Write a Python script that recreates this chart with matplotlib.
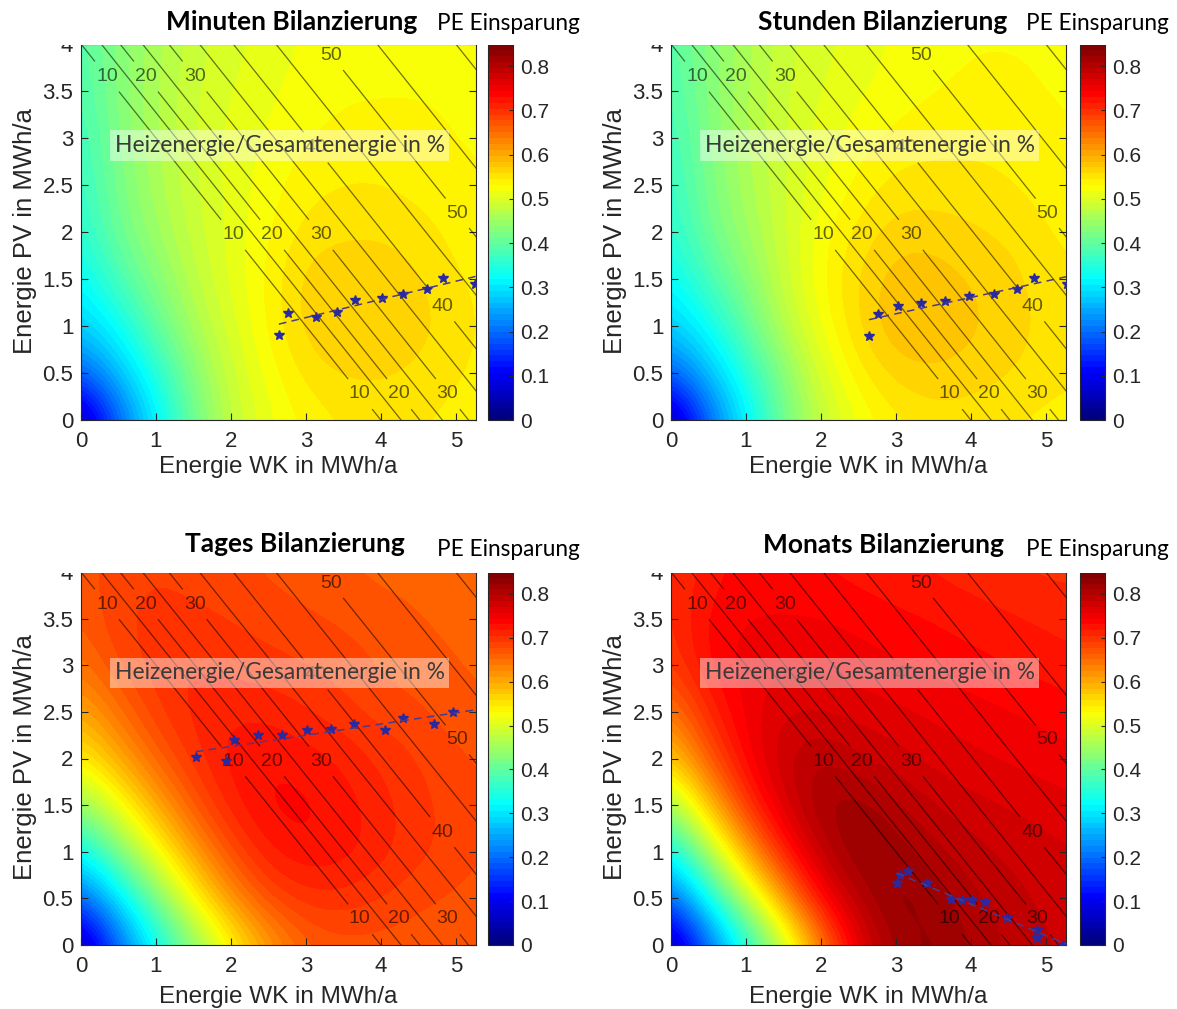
import numpy as np
import matplotlib
matplotlib.use("Agg")
import matplotlib.pyplot as plt
from matplotlib.patches import Rectangle
from matplotlib.ticker import FuncFormatter
from matplotlib.colors import LinearSegmentedColormap

plt.rcParams['font.family'] = ['Liberation Sans', 'DejaVu Sans']

# ---------------- data ----------------
# grid on which the PE savings were read (x: Energie WK, y: Energie PV)
x_grid = [0.0, 0.5, 1.0, 1.5, 2.0, 2.5, 3.0, 3.5, 4.0, 4.5, 5.0, 5.5]
y_grid = [0.0, 0.5, 1.0, 1.5, 2.0, 2.5, 3.0, 3.5, 4.0]

pe_minuten = [
    [0.02, 0.19, 0.31, 0.41, 0.48, 0.515, 0.535, 0.545, 0.55, 0.545, 0.54, 0.54],
    [0.19, 0.27, 0.35, 0.43, 0.49, 0.525, 0.55, 0.56, 0.56, 0.555, 0.545, 0.54],
    [0.28, 0.33, 0.40, 0.46, 0.50, 0.535, 0.565, 0.575, 0.57, 0.565, 0.55, 0.54],
    [0.32, 0.38, 0.43, 0.475, 0.51, 0.535, 0.565, 0.57, 0.57, 0.56, 0.545, 0.54],
    [0.35, 0.41, 0.45, 0.485, 0.51, 0.53, 0.55, 0.555, 0.555, 0.55, 0.54, 0.535],
    [0.36, 0.42, 0.46, 0.49, 0.51, 0.525, 0.54, 0.545, 0.545, 0.54, 0.535, 0.53],
    [0.37, 0.425, 0.465, 0.49, 0.51, 0.52, 0.53, 0.535, 0.535, 0.535, 0.53, 0.53],
    [0.38, 0.43, 0.465, 0.49, 0.505, 0.515, 0.525, 0.53, 0.53, 0.53, 0.53, 0.53],
    [0.39, 0.43, 0.46, 0.485, 0.50, 0.51, 0.52, 0.525, 0.53, 0.53, 0.53, 0.53],
]
pe_stunden = [
    [0.02, 0.19, 0.31, 0.41, 0.48, 0.52, 0.54, 0.55, 0.55, 0.545, 0.54, 0.54],
    [0.19, 0.27, 0.35, 0.43, 0.50, 0.54, 0.565, 0.57, 0.565, 0.56, 0.55, 0.545],
    [0.28, 0.33, 0.40, 0.47, 0.52, 0.56, 0.585, 0.585, 0.575, 0.565, 0.555, 0.545],
    [0.32, 0.38, 0.43, 0.485, 0.53, 0.56, 0.58, 0.58, 0.57, 0.565, 0.55, 0.545],
    [0.35, 0.41, 0.45, 0.49, 0.525, 0.55, 0.565, 0.565, 0.56, 0.555, 0.545, 0.54],
    [0.36, 0.42, 0.46, 0.49, 0.515, 0.535, 0.55, 0.55, 0.55, 0.545, 0.54, 0.535],
    [0.37, 0.425, 0.465, 0.49, 0.51, 0.525, 0.535, 0.54, 0.54, 0.54, 0.535, 0.53],
    [0.38, 0.43, 0.465, 0.49, 0.505, 0.515, 0.525, 0.53, 0.535, 0.535, 0.53, 0.53],
    [0.39, 0.43, 0.46, 0.485, 0.50, 0.51, 0.52, 0.525, 0.53, 0.53, 0.53, 0.53],
]
pe_tages = [
    [0.02, 0.19, 0.32, 0.43, 0.53, 0.61, 0.66, 0.67, 0.67, 0.67, 0.665, 0.66],
    [0.19, 0.30, 0.42, 0.53, 0.62, 0.68, 0.70, 0.70, 0.69, 0.68, 0.675, 0.67],
    [0.32, 0.42, 0.52, 0.61, 0.68, 0.72, 0.73, 0.725, 0.71, 0.695, 0.685, 0.675],
    [0.44, 0.52, 0.60, 0.67, 0.715, 0.735, 0.735, 0.725, 0.71, 0.695, 0.685, 0.675],
    [0.54, 0.60, 0.66, 0.70, 0.725, 0.73, 0.725, 0.715, 0.70, 0.69, 0.68, 0.675],
    [0.60, 0.65, 0.69, 0.71, 0.715, 0.715, 0.705, 0.695, 0.685, 0.68, 0.67, 0.665],
    [0.645, 0.68, 0.70, 0.705, 0.70, 0.695, 0.69, 0.685, 0.675, 0.67, 0.665, 0.66],
    [0.665, 0.69, 0.695, 0.695, 0.69, 0.685, 0.68, 0.675, 0.67, 0.665, 0.66, 0.655],
    [0.67, 0.685, 0.69, 0.685, 0.68, 0.675, 0.67, 0.665, 0.66, 0.66, 0.655, 0.655],
]
pe_monats = [
    [0.02, 0.19, 0.34, 0.47, 0.63, 0.76, 0.815, 0.83, 0.81, 0.795, 0.785, 0.78],
    [0.19, 0.33, 0.47, 0.61, 0.74, 0.80, 0.835, 0.82, 0.80, 0.79, 0.78, 0.775],
    [0.32, 0.46, 0.60, 0.72, 0.79, 0.83, 0.82, 0.80, 0.79, 0.78, 0.775, 0.77],
    [0.45, 0.58, 0.70, 0.77, 0.815, 0.82, 0.80, 0.785, 0.775, 0.77, 0.765, 0.76],
    [0.57, 0.67, 0.74, 0.785, 0.80, 0.785, 0.775, 0.765, 0.76, 0.755, 0.75, 0.745],
    [0.64, 0.71, 0.75, 0.77, 0.77, 0.765, 0.76, 0.755, 0.75, 0.745, 0.74, 0.735],
    [0.69, 0.735, 0.75, 0.755, 0.755, 0.75, 0.745, 0.74, 0.735, 0.73, 0.725, 0.72],
    [0.70, 0.735, 0.745, 0.745, 0.745, 0.74, 0.735, 0.73, 0.725, 0.72, 0.715, 0.71],
    [0.70, 0.725, 0.735, 0.735, 0.73, 0.725, 0.72, 0.715, 0.71, 0.705, 0.70, 0.70],
]

# optimum points (Energie WK, Energie PV)
opt_minuten_x = [2.64, 2.76, 3.14, 3.42, 3.65, 4.01, 4.29, 4.61, 4.83, 5.26]
opt_minuten_y = [0.90, 1.14, 1.10, 1.15, 1.28, 1.30, 1.34, 1.39, 1.51, 1.45]
opt_stunden_x = [2.64, 2.76, 3.03, 3.33, 3.65, 3.97, 4.31, 4.62, 4.84, 5.28]
opt_stunden_y = [0.89, 1.13, 1.21, 1.25, 1.27, 1.32, 1.34, 1.39, 1.51, 1.45]
opt_tages_x = [1.53, 1.93, 2.04, 2.36, 2.68, 3.01, 3.34, 3.64, 4.05, 4.29, 4.71, 4.96]
opt_tages_y = [2.02, 1.97, 2.20, 2.25, 2.25, 2.31, 2.32, 2.37, 2.31, 2.43, 2.37, 2.50]
opt_monats_x = [3.01, 3.05, 3.16, 3.41, 3.73, 3.88, 4.01, 4.19, 4.48, 4.88, 4.88, 5.23]
opt_monats_y = [0.66, 0.75, 0.79, 0.66, 0.49, 0.48, 0.48, 0.46, 0.29, 0.16, 0.07, 0.00]

# Heizenergie/Gesamtenergie contour lines: level and value of (WK + PV) along the line
hz_levels = [10, 15, 20, 25, 30, 35, 40, 45, 50, 55, 60]
hz_sum = [4.0, 4.27, 4.52, 4.82, 5.17, 5.58, 6.03, 6.6, 7.22, 7.95, 9.0]
# label positions (PV value where the level is labelled)
hz_label_y = {10: [3.65, 1.97, 0.28], 20: [3.65, 1.97, 0.28], 30: [3.65, 1.97, 0.28],
              40: [2.9, 1.21], 50: [3.88, 2.2]}

titles = ["Minuten Bilanzierung", "Stunden Bilanzierung", "Tages Bilanzierung", "Monats Bilanzierung"]
grids = [pe_minuten, pe_stunden, pe_tages, pe_monats]
opts = [(opt_minuten_x, opt_minuten_y), (opt_stunden_x, opt_stunden_y),
        (opt_tages_x, opt_tages_y), (opt_monats_x, opt_monats_y)]

XMAX, YMAX = 5.27, 4.0
VMAX = 0.85

# MATLAB style jet colormap (64 colours)
jet_anchors = [(0.0, (0, 0, 0.5)), (0.125, (0, 0, 1)), (0.375, (0, 1, 1)),
               (0.625, (1, 1, 0)), (0.875, (1, 0, 0)), (1.0, (0.5, 0, 0))]
cmap = LinearSegmentedColormap.from_list('mjet', jet_anchors, N=64)

# ---------------- layout (pixels) ----------------
W, H = 1177, 1009
fig = plt.figure(figsize=(W / 100, H / 100), dpi=100)


def px_axes(l, t, r, b):
    return fig.add_axes([l / W, 1 - b / H, (r - l) / W, (b - t) / H])


ax_boxes = [(81, 44, 476, 420), (671, 44, 1066, 420), (81, 572, 476, 945), (671, 572, 1066, 945)]
cb_boxes = [(488, 44, 513, 420), (1080, 44, 1105, 420), (488, 572, 513, 945), (1080, 572, 1105, 945)]
title_pos = [(292, 22), (883, 22), (295, 544), (883, 545)]
pe_pos = [(508, 23), (1097, 23), (508, 549), (1097, 549)]

fmt = FuncFormatter(lambda v, p: f"{v:g}")
axcol = '#262626'

for i in range(4):
    ax = px_axes(*ax_boxes[i])
    z = np.array(grids[i])
    dx = x_grid[1] - x_grid[0]
    dy = y_grid[1] - y_grid[0]
    im = ax.imshow(z, origin='lower', cmap=cmap, vmin=0, vmax=VMAX, interpolation='bicubic',
                   extent=[x_grid[0] - dx / 2, x_grid[-1] + dx / 2, y_grid[0] - dy / 2, y_grid[-1] + dy / 2],
                   aspect='auto', zorder=0)

    # contour lines of Heizenergie/Gesamtenergie
    for lev, s in zip(hz_levels, hz_sum):
        ylo = max(0.0, s - XMAX)
        yhi = min(YMAX, s)
        if yhi <= ylo:
            continue
        yy = np.linspace(ylo, yhi, 400)
        xx = s - yy
        labs = hz_label_y.get(lev, [])
        mask = np.zeros_like(yy, dtype=bool)
        for ly in labs:
            mask |= np.abs(yy - ly) < 0.16
        yy = np.where(mask, np.nan, yy)
        ax.plot(xx, yy, color='k', lw=0.9, alpha=0.55, zorder=2)
        for ly in labs:
            ax.text(s - ly, ly, str(lev), ha='center', va='center', fontsize=14,
                    color='k', alpha=0.6, zorder=3, clip_on=True)

    # optimum points and linear fit
    ox, oy = opts[i]
    ax.plot(ox, oy, ls='none', marker='*', ms=7.5, color='#2a2aa0', zorder=4)
    coef = np.polyfit(ox, oy, 1)
    fx = np.array([min(ox), XMAX])
    ax.plot(fx, np.polyval(coef, fx), ls=(0, (5, 3.5)), lw=1.1, color='#4a3a8a', zorder=4)

    ax.text(2.653, 2.92, "Heizenergie/Gesamtenergie in %", ha='center', va='center',
            fontsize=16.4, family=['Lato', 'DejaVu Sans'], color='#3a3a3a', zorder=5,
            bbox=dict(boxstyle='square,pad=0.2', facecolor='white', alpha=0.45, edgecolor='none'))

    ax.set_xlim(0, XMAX)
    ax.set_ylim(0, YMAX)
    ax.set_xticks(range(6))
    ax.set_yticks(np.arange(0, 4.01, 0.5))
    ax.xaxis.set_major_formatter(fmt)
    ax.yaxis.set_major_formatter(fmt)
    ax.tick_params(axis='both', direction='in', length=5, width=0.8, colors=axcol,
                   top=False, right=True, labelsize=16)
    ax.tick_params(axis='x', pad=8)
    ax.tick_params(axis='y', pad=5.5)
    for sp in ax.spines.values():
        sp.set_color(axcol)
        sp.set_linewidth(0.8)
    ax.set_xlabel("Energie WK in MWh/a", fontsize=17.5, color=axcol, va='center')
    ax.set_ylabel("Energie PV in MWh/a", fontsize=18.5, color=axcol, va='center')
    ax.xaxis.set_label_coords(0.5, -0.125 if i < 2 else -0.139)
    ax.yaxis.set_label_coords(-0.142, 0.503)

    cax = px_axes(*cb_boxes[i])
    cb = fig.colorbar(im, cax=cax, ticks=np.arange(0, 0.81, 0.1))
    cb.ax.yaxis.set_major_formatter(fmt)
    cb.ax.tick_params(direction='in', length=3, width=0.8, colors=axcol, labelsize=15, pad=5)
    cb.outline.set_edgecolor(axcol)
    cb.outline.set_linewidth(0.8)

    tx, ty = title_pos[i]
    fig.text(tx / W, 1 - ty / H, titles[i], ha='center', va='center', fontsize=19,
             fontweight='bold', family=['Lato', 'DejaVu Sans'], color='black', zorder=11)
    px, py = pe_pos[i]
    fig.text(px / W, 1 - py / H, "PE Einsparung", ha='center', va='center', fontsize=16.3,
             family=['Lato', 'DejaVu Sans'], color='black', zorder=11)

# white bands behind the titles (cut the top of the plots like in the original)
fig.patches.append(Rectangle((0, 1 - 44.5 / H), 1, 44.5 / H, transform=fig.transFigure,
                             facecolor='white', edgecolor='none', zorder=10))
fig.patches.append(Rectangle((0, 1 - 572.5 / H), 1, 60 / H, transform=fig.transFigure,
                             facecolor='white', edgecolor='none', zorder=10))

fig.savefig("out.png", dpi=100)
